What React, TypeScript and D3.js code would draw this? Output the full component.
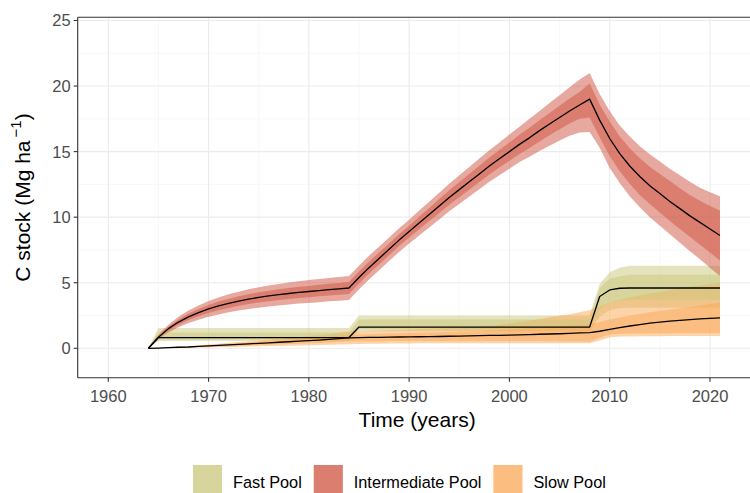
import React, { useEffect, useRef } from 'react';
import * as d3 from 'd3';

// yearly series 1964..2021
const years = d3.range(1964, 2022);

const interMid = [
  0, 0.85, 1.5, 2.0, 2.4, 2.72, 3.0, 3.23, 3.43, 3.6, 3.75, 3.88, 3.99, 4.09, 4.18, 4.26, 4.33, 4.4, 4.47, 4.53, 4.6,
  5.4, 6.15, 6.85, 7.55, 8.25, 8.9, 9.55, 10.2, 10.85, 11.5, 12.1, 12.7, 13.3, 13.9, 14.45, 15.0, 15.55, 16.05, 16.6, 17.1, 17.6, 18.1, 18.55, 19.0,
  17.4, 16.0, 14.85, 13.9, 13.1, 12.4, 11.8, 11.2, 10.65, 10.1, 9.6, 9.1, 8.6,
];
const interLo95 = [
  0, 0.65, 1.2, 1.6, 1.92, 2.18, 2.4, 2.58, 2.75, 2.88, 3.0, 3.1, 3.19, 3.27, 3.34, 3.41, 3.46, 3.52, 3.58, 3.62, 3.68,
  4.5, 5.25, 5.95, 6.65, 7.35, 8.0, 8.6, 9.22, 9.83, 10.45, 11.0, 11.57, 12.13, 12.7, 13.2, 13.7, 14.2, 14.6, 15.05, 15.45, 15.85, 16.2, 16.45, 16.5,
  15.3, 13.75, 12.6, 11.6, 10.75, 10.0, 9.35, 8.7, 8.05, 7.4, 6.8, 6.15, 5.5,
];
const interLo50 = [
  0, 0.75, 1.35, 1.8, 2.15, 2.45, 2.7, 2.9, 3.08, 3.24, 3.37, 3.49, 3.59, 3.68, 3.76, 3.83, 3.9, 3.96, 4.02, 4.08, 4.14,
  4.95, 5.7, 6.4, 7.1, 7.8, 8.45, 9.07, 9.7, 10.32, 10.95, 11.52, 12.1, 12.68, 13.25, 13.78, 14.3, 14.82, 15.28, 15.78, 16.25, 16.7, 17.15, 17.5, 17.6,
  16.1, 14.65, 13.5, 12.55, 11.7, 11.0, 10.35, 9.7, 9.1, 8.5, 7.9, 7.3, 6.7,
];
const interHi50 = [
  0, 0.95, 1.65, 2.2, 2.65, 3.0, 3.3, 3.56, 3.78, 3.96, 4.13, 4.27, 4.39, 4.5, 4.6, 4.69, 4.76, 4.84, 4.92, 4.98, 5.06,
  5.85, 6.6, 7.3, 8.0, 8.7, 9.35, 10.03, 10.7, 11.38, 12.05, 12.68, 13.3, 13.92, 14.55, 15.12, 15.7, 16.28, 16.82, 17.4, 17.95, 18.5, 19.05, 19.55, 20.2,
  18.6, 17.3, 16.15, 15.25, 14.5, 13.85, 13.3, 12.75, 12.2, 11.7, 11.25, 10.85, 10.5,
];
const interHi95 = [
  0, 1.05, 1.8, 2.4, 2.88, 3.26, 3.6, 3.88, 4.12, 4.32, 4.5, 4.66, 4.79, 4.91, 5.02, 5.11, 5.2, 5.28, 5.36, 5.44, 5.52,
  6.3, 7.05, 7.75, 8.45, 9.15, 9.8, 10.5, 11.18, 11.87, 12.55, 13.2, 13.83, 14.47, 15.1, 15.7, 16.3, 16.9, 17.5, 18.1, 18.7, 19.3, 19.9, 20.5, 21.0,
  19.4, 18.1, 17.0, 16.15, 15.4, 14.8, 14.25, 13.7, 13.2, 12.7, 12.25, 11.9, 11.6,
];

const slowMid = [
  0, 0.02, 0.05, 0.08, 0.1, 0.14, 0.18, 0.22, 0.26, 0.3, 0.34, 0.38, 0.42, 0.46, 0.5, 0.54, 0.58, 0.63, 0.68, 0.74, 0.8,
  0.82, 0.83, 0.84, 0.85, 0.86, 0.87, 0.88, 0.89, 0.9, 0.92, 0.93, 0.95, 0.96, 0.98, 0.99, 1.01, 1.03, 1.05, 1.07, 1.09, 1.11, 1.14, 1.17, 1.2,
  1.3, 1.45, 1.58, 1.7, 1.81, 1.92, 2.0, 2.07, 2.13, 2.19, 2.24, 2.28, 2.32,
];
const slowLo95 = [
  0, 0.01, 0.02, 0.03, 0.04, 0.06, 0.07, 0.09, 0.1, 0.12, 0.14, 0.15, 0.17, 0.18, 0.2, 0.22, 0.23, 0.25, 0.27, 0.29, 0.31,
  0.33, 0.34, 0.35, 0.36, 0.37, 0.37, 0.38, 0.38, 0.38, 0.38, 0.38, 0.38, 0.38, 0.38, 0.38, 0.38, 0.38, 0.38, 0.38, 0.38, 0.38, 0.38, 0.38, 0.38,
  0.6, 0.85, 0.9, 0.9, 0.91, 0.92, 0.92, 0.93, 0.93, 0.93, 0.94, 0.94, 0.94,
];
const slowLo50 = [
  0, 0.01, 0.03, 0.05, 0.07, 0.09, 0.12, 0.14, 0.17, 0.2, 0.22, 0.25, 0.27, 0.3, 0.33, 0.35, 0.38, 0.41, 0.44, 0.48, 0.52,
  0.53, 0.54, 0.54, 0.55, 0.55, 0.55, 0.55, 0.55, 0.55, 0.55, 0.55, 0.55, 0.55, 0.55, 0.55, 0.55, 0.55, 0.55, 0.55, 0.54, 0.53, 0.52, 0.51, 0.5,
  0.8, 1.05, 1.1, 1.12, 1.13, 1.14, 1.15, 1.15, 1.16, 1.16, 1.17, 1.17, 1.17,
];
const slowHi50 = [
  0, 0.03, 0.07, 0.1, 0.13, 0.18, 0.23, 0.29, 0.34, 0.39, 0.44, 0.49, 0.55, 0.6, 0.65, 0.7, 0.75, 0.82, 0.88, 0.96, 1.04,
  1.06, 1.08, 1.1, 1.12, 1.14, 1.16, 1.18, 1.2, 1.22, 1.24, 1.26, 1.29, 1.32, 1.36, 1.4, 1.44, 1.48, 1.53, 1.58, 1.63, 1.68, 1.72, 1.76, 1.8,
  2.0, 2.2, 2.35, 2.5, 2.62, 2.75, 2.85, 2.95, 3.05, 3.15, 3.25, 3.38, 3.5,
];
const slowHi95 = [
  0, 0.03, 0.08, 0.13, 0.16, 0.22, 0.29, 0.35, 0.42, 0.48, 0.54, 0.61, 0.67, 0.74, 0.8, 0.86, 0.93, 1.0, 1.08, 1.18, 1.28,
  1.3, 1.33, 1.36, 1.39, 1.42, 1.45, 1.48, 1.5, 1.52, 1.54, 1.56, 1.6, 1.65, 1.72, 1.8, 1.9, 2.0, 2.12, 2.24, 2.36, 2.48, 2.6, 2.75, 2.9,
  3.2, 3.5, 3.7, 3.9, 4.05, 4.2, 4.3, 4.45, 4.6, 4.7, 4.8, 4.9, 5.0,
];

// fast pool only changes at a few years
const fastYears = [1964, 1965, 1984, 1985, 2008, 2009, 2010, 2011, 2012, 2021];
const fastMid = [0, 0.82, 0.82, 1.62, 1.62, 3.95, 4.45, 4.58, 4.6, 4.6];
const fastLo95 = [0, 0.55, 0.55, 1.3, 1.3, 2.4, 2.9, 3.05, 3.1, 3.1];
const fastLo50 = [0, 0.68, 0.68, 1.45, 1.45, 3.0, 3.5, 3.65, 3.7, 3.7];
const fastHi50 = [0, 1.2, 1.2, 2.2, 2.2, 4.6, 5.3, 5.5, 5.6, 5.6];
const fastHi95 = [0, 1.55, 1.55, 2.5, 2.5, 4.9, 5.8, 6.15, 6.3, 6.3];

const poolNames = ['Fast Pool', 'Intermediate Pool', 'Slow Pool'];
const poolColors = ['#CBC87B', '#CF5440', '#FCA856'];

const xTicks = [1960, 1970, 1980, 1990, 2000, 2010, 2020];
const yTicks = [0, 5, 10, 15, 20, 25];

const font = "'Liberation Sans', Arial, sans-serif";

type Pool = { name: string; color: string; yrs: number[]; mid: number[]; lo95: number[]; lo50: number[]; hi50: number[]; hi95: number[] };

const App = () => {
  const ref = useRef<SVGSVGElement>(null);

  useEffect(() => {
    const svg = d3.select(ref.current);
    svg.selectAll('*').remove();

    const pools: Pool[] = [
      { name: poolNames[0], color: poolColors[0], yrs: fastYears, mid: fastMid, lo95: fastLo95, lo50: fastLo50, hi50: fastHi50, hi95: fastHi95 },
      { name: poolNames[1], color: poolColors[1], yrs: years, mid: interMid, lo95: interLo95, lo50: interLo50, hi50: interHi50, hi95: interHi95 },
      { name: poolNames[2], color: poolColors[2], yrs: years, mid: slowMid, lo95: slowLo95, lo50: slowLo50, hi50: slowHi50, hi95: slowHi95 },
    ];

    const left = 77.7, right = 750.6, top = 17.2, bottom = 377.8;
    const x = d3.scaleLinear().domain([1956.95, 2024.05]).range([left, right]);
    const y = d3.scaleLinear().domain([-2.25, 25.25]).range([bottom, top]);

    svg.append('defs').append('clipPath').attr('id', 'panel')
      .append('rect').attr('x', left).attr('y', top).attr('width', right - left).attr('height', bottom - top);

    // grid
    const grid = svg.append('g');
    [1965, 1975, 1985, 1995, 2005, 2015].forEach(v => {
      grid.append('line').attr('x1', x(v)).attr('x2', x(v)).attr('y1', top).attr('y2', bottom)
        .attr('stroke', '#F2F2F2').attr('stroke-width', 0.6);
    });
    [2.5, 7.5, 12.5, 17.5, 22.5].forEach(v => {
      grid.append('line').attr('x1', left).attr('x2', right).attr('y1', y(v)).attr('y2', y(v))
        .attr('stroke', '#F2F2F2').attr('stroke-width', 0.6);
    });
    xTicks.forEach(v => {
      grid.append('line').attr('x1', x(v)).attr('x2', x(v)).attr('y1', top).attr('y2', bottom)
        .attr('stroke', '#EBEBEB').attr('stroke-width', 1.1);
    });
    yTicks.forEach(v => {
      grid.append('line').attr('x1', left).attr('x2', right).attr('y1', y(v)).attr('y2', y(v))
        .attr('stroke', '#EBEBEB').attr('stroke-width', 1.1);
    });

    const plot = svg.append('g').attr('clip-path', 'url(#panel)');

    const band = (lo: number[], hi: number[], yrs: number[]) =>
      d3.area<number>().x((d, i) => x(yrs[i])).y0((d, i) => y(lo[i])).y1((d, i) => y(hi[i]))(yrs);

    // outer ribbons, then inner ribbons, then lines
    pools.forEach(p => {
      plot.append('path').attr('d', band(p.lo95, p.hi95, p.yrs)).attr('fill', p.color).attr('fill-opacity', 0.5);
    });
    pools.forEach(p => {
      plot.append('path').attr('d', band(p.lo50, p.hi50, p.yrs)).attr('fill', p.color).attr('fill-opacity', 0.5);
    });
    pools.forEach(p => {
      const line = d3.line<number>().x((d, i) => x(p.yrs[i])).y(d => y(d));
      plot.append('path').attr('d', line(p.mid)).attr('fill', 'none')
        .attr('stroke', '#000').attr('stroke-width', 1.3).attr('stroke-linejoin', 'round');
    });

    // panel border (right side falls outside the picture)
    const border = svg.append('g').attr('stroke', '#333').attr('stroke-width', 1.1);
    border.append('line').attr('x1', left).attr('x2', left).attr('y1', top).attr('y2', bottom);
    border.append('line').attr('x1', left).attr('x2', right).attr('y1', bottom).attr('y2', bottom);
    border.append('line').attr('x1', left).attr('x2', right).attr('y1', top).attr('y2', top);

    // axes
    const axes = svg.append('g').attr('font-family', font);
    xTicks.forEach(v => {
      axes.append('line').attr('x1', x(v)).attr('x2', x(v)).attr('y1', bottom).attr('y2', bottom + 4)
        .attr('stroke', '#333').attr('stroke-width', 1.1);
      axes.append('text').attr('x', x(v)).attr('y', 401.5).attr('text-anchor', 'middle')
        .attr('font-size', 16.5).attr('fill', '#4D4D4D').text(v);
    });
    yTicks.forEach(v => {
      axes.append('line').attr('x1', left - 4).attr('x2', left).attr('y1', y(v)).attr('y2', y(v))
        .attr('stroke', '#333').attr('stroke-width', 1.1);
      axes.append('text').attr('x', left - 7).attr('y', y(v) + 6).attr('text-anchor', 'end')
        .attr('font-size', 16.5).attr('fill', '#4D4D4D').text(v);
    });

    axes.append('text').attr('x', (left + right) / 2 + 3).attr('y', 426.5).attr('text-anchor', 'middle')
      .attr('font-size', 21).attr('fill', '#000').text('Time (years)');

    const yt = axes.append('text').attr('transform', `translate(29.5, ${(top + bottom) / 2}) rotate(-90)`)
      .attr('text-anchor', 'middle').attr('font-size', 21).attr('fill', '#000');
    yt.append('tspan').text('C stock (Mg ha');
    yt.append('tspan').attr('font-size', 15).attr('dy', -9).attr('dx', 3).text('\u22121');
    yt.append('tspan').attr('dy', 9).text(')');

    // legend
    const leg = svg.append('g').attr('font-family', font);
    let kx = 193;
    pools.forEach(p => {
      leg.append('rect').attr('x', kx).attr('y', 465).attr('width', 29).attr('height', 34)
        .attr('fill', p.color).attr('fill-opacity', 0.5);
      leg.append('rect').attr('x', kx).attr('y', 465).attr('width', 29).attr('height', 34)
        .attr('fill', p.color).attr('fill-opacity', 0.5);
      const t = leg.append('text').attr('x', kx + 40).attr('y', 488).attr('font-size', 16.3)
        .attr('fill', '#000').text(p.name);
      const w = (t.node() as SVGTextElement).getComputedTextLength();
      kx = kx + 40 + w + 12;
    });
  }, []);

  return (
    <svg ref={ref} width={750} height={493} style={{ position: 'absolute', left: 0, top: 0, background: '#fff' }} />
  );
};

export default App;
